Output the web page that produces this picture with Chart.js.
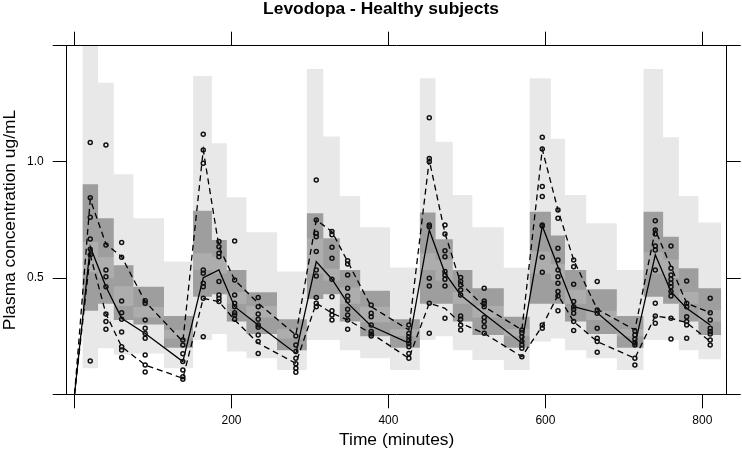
<!DOCTYPE html>
<html>
<head>
<meta charset="utf-8">
<script src="https://cdn.jsdelivr.net/npm/chart.js@4.4.1/dist/chart.umd.min.js"></script>
<style>
  html, body { margin: 0; padding: 0; background: #fff; }
  #wrap { width: 742px; height: 452px; }
</style>
</head>
<body>
<div id="wrap"><canvas id="vpc" width="742" height="452"></canvas></div>
<script>
// observed sampling times (minutes)
const sampleTimes = [0, 20, 40, 60, 90, 138, 164, 184, 204, 234, 282, 308, 328, 348, 378,
  426, 452, 472, 492, 522, 570, 596, 616, 636, 666, 714, 740, 760, 780, 810];

// observed percentiles at each sampling time
const obsMedian = [0, 0.635, 0.463, 0.327, 0.262, 0.141, 0.502, 0.535, 0.377, 0.298, 0.176,
  0.571, 0.495, 0.392, 0.294, 0.22, 0.707, 0.521, 0.427, 0.346, 0.22,
  0.724, 0.549, 0.377, 0.351, 0.212, 0.60, 0.442, 0.37, 0.298];
const obsP95 = [0, 0.839, 0.647, 0.592, 0.399, 0.227, 1.051, 0.635, 0.492, 0.392, 0.255,
  0.75, 0.70, 0.571, 0.377, 0.277, 1.008, 0.693, 0.478, 0.377, 0.277,
  1.054, 0.793, 0.578, 0.366, 0.277, 0.707, 0.549, 0.392, 0.351];
const obsP05 = [0, 0.60, 0.346, 0.205, 0.126, 0.069, 0.413, 0.399, 0.32, 0.22, 0.133,
  0.392, 0.349, 0.32, 0.262, 0.155, 0.392, 0.37, 0.306, 0.262, 0.162,
  0.294, 0.427, 0.313, 0.227, 0.155, 0.337, 0.327, 0.308, 0.227];

// observed concentrations, one list per sampling time
const obsValues = [
  [],
  [1.083, 0.846, 0.762, 0.668, 0.624, 0.60, 0.143],
  [1.073, 0.642, 0.535, 0.506, 0.463, 0.346, 0.313, 0.28],
  [0.653, 0.59, 0.402, 0.351, 0.323, 0.268, 0.205, 0.191, 0.158],
  [0.403, 0.392, 0.32, 0.284, 0.262, 0.241, 0.169, 0.126, 0.096],
  [0.234, 0.212, 0.174, 0.141, 0.105, 0.076, 0.065],
  [1.119, 1.051, 0.994, 0.535, 0.521, 0.478, 0.463, 0.413, 0.248],
  [0.657, 0.635, 0.607, 0.592, 0.485, 0.427, 0.413, 0.399],
  [0.66, 0.492, 0.427, 0.392, 0.377, 0.351, 0.341, 0.323],
  [0.416, 0.377, 0.346, 0.323, 0.298, 0.288, 0.255, 0.227, 0.176],
  [0.251, 0.212, 0.184, 0.155, 0.131, 0.112, 0.095],
  [0.922, 0.75, 0.693, 0.678, 0.614, 0.535, 0.509, 0.417, 0.392, 0.377],
  [0.70, 0.686, 0.633, 0.585, 0.495, 0.42, 0.36, 0.341, 0.32],
  [0.575, 0.561, 0.513, 0.456, 0.423, 0.403, 0.366, 0.341, 0.32, 0.28],
  [0.384, 0.349, 0.334, 0.298, 0.27, 0.26, 0.251],
  [0.298, 0.262, 0.248, 0.234, 0.219, 0.205, 0.176, 0.155],
  [1.19, 1.015, 1.001, 0.729, 0.721, 0.499, 0.466, 0.392, 0.263],
  [0.729, 0.69, 0.618, 0.592, 0.528, 0.513, 0.495, 0.466, 0.327],
  [0.503, 0.485, 0.47, 0.449, 0.427, 0.337, 0.323, 0.298, 0.277],
  [0.456, 0.402, 0.392, 0.377, 0.33, 0.313, 0.291, 0.263],
  [0.277, 0.265, 0.248, 0.227, 0.212, 0.198, 0.162],
  [1.106, 1.056, 0.894, 0.851, 0.729, 0.724, 0.59, 0.525, 0.298, 0.284],
  [0.793, 0.757, 0.628, 0.578, 0.535, 0.506, 0.478, 0.442, 0.423, 0.36],
  [0.578, 0.549, 0.473, 0.399, 0.377, 0.366, 0.349, 0.313, 0.274],
  [0.485, 0.363, 0.349, 0.284, 0.241, 0.227, 0.181],
  [0.273, 0.255, 0.237, 0.222, 0.212, 0.155, 0.126],
  [0.747, 0.707, 0.69, 0.638, 0.621, 0.535, 0.392, 0.337, 0.306],
  [0.638, 0.542, 0.513, 0.495, 0.478, 0.463, 0.442, 0.423, 0.327, 0.238],
  [0.488, 0.392, 0.377, 0.334, 0.313, 0.298, 0.241],
  [0.413, 0.351, 0.32, 0.284, 0.27, 0.26, 0.234, 0.212]
];

// simulation bins (edges) and confidence intervals of the simulated percentiles
const binEdges = [10, 30, 50, 75, 114, 151, 175, 194, 219, 258, 296, 317, 338, 364, 402,
  440, 460, 482, 507, 547, 580, 607, 625, 652, 691, 725, 750, 770, 795, 824];
const ciHiTop = [1.6, 1.341, 0.947, 0.757, 0.571, 1.37, 1.08, 0.848, 0.697, 0.528,
  1.40, 1.109, 0.853, 0.719, 0.546, 1.36, 1.087, 0.858, 0.719, 0.545,
  1.36, 1.10, 0.858, 0.736, 0.535, 1.40, 1.106, 0.853, 0.739];
const ciHiBot = [0.655, 0.59, 0.465, 0.376, 0.277, 0.607, 0.592, 0.44, 0.38, 0.28,
  0.67, 0.54, 0.46, 0.377, 0.28, 0.607, 0.578, 0.44, 0.38, 0.28,
  0.614, 0.56, 0.45, 0.36, 0.28, 0.611, 0.58, 0.44, 0.363];
const ciMedTop = [0.904, 0.757, 0.555, 0.463, 0.337, 0.79, 0.664, 0.535, 0.439, 0.323,
  0.779, 0.671, 0.535, 0.446, 0.323, 0.782, 0.667, 0.535, 0.456, 0.334,
  0.786, 0.683, 0.535, 0.452, 0.337, 0.786, 0.678, 0.542, 0.456];
const ciMedBot = [0.36, 0.39, 0.32, 0.30, 0.20, 0.42, 0.43, 0.313, 0.26, 0.19,
  0.41, 0.43, 0.313, 0.25, 0.20, 0.39, 0.39, 0.313, 0.255, 0.20,
  0.39, 0.39, 0.313, 0.26, 0.20, 0.42, 0.39, 0.313, 0.255];
const ciLoTop = [0.525, 0.50, 0.38, 0.33, 0.24, 0.535, 0.52, 0.39, 0.33, 0.24,
  0.52, 0.49, 0.39, 0.31, 0.25, 0.535, 0.49, 0.39, 0.33, 0.25,
  0.52, 0.49, 0.39, 0.32, 0.25, 0.52, 0.50, 0.39, 0.313];
const ciLoBot = [0.112, 0.198, 0.17, 0.176, 0.112, 0.234, 0.26, 0.184, 0.155, 0.105,
  0.234, 0.234, 0.19, 0.155, 0.105, 0.234, 0.25, 0.19, 0.148, 0.105,
  0.227, 0.24, 0.19, 0.155, 0.105, 0.234, 0.234, 0.19, 0.151];

const xTicks = [0, 200, 400, 600, 800];
const yTicks = [0, 0.5, 1.0, 1.5];
const yTickLabels = ['', '0.5', '1.0', ''];

const FONT = '"Liberation Sans", Arial, Helvetica, sans-serif';
Chart.defaults.font.family = FONT;
Chart.defaults.color = '#000';

const LIGHT = 'rgba(0,0,0,0.09)';
const MID = 'rgba(0,0,0,0.32)';

const stepPts = vals => binEdges.map((x, i) => ({ x: x, y: vals[Math.min(i, vals.length - 1)] }));
const linePts = vals => sampleTimes.map((x, i) => ({ x: x, y: vals[i] }));
const obsPts = [];
obsValues.forEach((list, i) => list.forEach(v => obsPts.push({ x: sampleTimes[i], y: v })));

function bandPair(top, bot, color) {
  const common = { stepped: true, borderWidth: 0, borderColor: 'rgba(0,0,0,0)', pointRadius: 0, order: 5 };
  return [
    Object.assign({ data: stepPts(top), fill: '+1', backgroundColor: color }, common),
    Object.assign({ data: stepPts(bot), fill: false }, common)
  ];
}

const lineStyle = { borderColor: '#000', borderWidth: 1.3, pointRadius: 0, fill: false, tension: 0, order: 1 };

const tickGrid = { drawOnChartArea: false, drawTicks: true, tickLength: 14, color: '#000', lineWidth: 1 };
const border = { display: true, color: '#000', width: 1 };
const setTicks = list => scale => { scale.ticks = list.map(v => ({ value: v })); };

// fixed axis box sizes so the panel sits where it does in the original
const fixWidth = w => scale => { scale.width = w; };
const fixHeight = h => scale => { scale.height = h; };

const titlePlugin = {
  id: 'plotTitle',
  afterDraw(chart) {
    const ctx = chart.ctx;
    ctx.save();
    ctx.font = 'bold 17.4px ' + FONT;
    ctx.fillStyle = '#000';
    ctx.textAlign = 'center';
    ctx.textBaseline = 'alphabetic';
    ctx.fillText('Levodopa - Healthy subjects', 381, 14);
    ctx.restore();
  }
};

new Chart(document.getElementById('vpc'), {
  type: 'line',
  data: {
    datasets: [
      ...bandPair(ciHiTop, ciHiBot, LIGHT),
      ...bandPair(ciMedTop, ciMedBot, MID),
      ...bandPair(ciLoTop, ciLoBot, LIGHT),
      Object.assign({ data: linePts(obsMedian) }, lineStyle),
      Object.assign({ data: linePts(obsP95), borderDash: [6, 4] }, lineStyle),
      Object.assign({ data: linePts(obsP05), borderDash: [6, 4] }, lineStyle),
      {
        type: 'scatter',
        data: obsPts,
        showLine: false,
        pointRadius: 2,
        pointBorderWidth: 1.5,
        borderColor: '#111',
        backgroundColor: 'rgba(0,0,0,0)',
        order: 0
      }
    ]
  },
  options: {
    responsive: false,
    animation: false,
    events: [],
    layout: { padding: { left: 0, right: 1.3, top: 31.7, bottom: 0 } },
    plugins: { legend: { display: false }, tooltip: { enabled: false }, title: { display: false } },
    scales: {
      x: {
        type: 'linear', position: 'bottom', min: -10, max: 831,
        afterBuildTicks: setTicks(xTicks),
        afterFit: fixHeight(57.7),
        ticks: { callback: v => (v === 0 ? '' : String(v)), font: { size: 12 }, padding: 5, maxRotation: 0, autoSkip: false },
        grid: tickGrid, border: border,
        title: { display: true, text: 'Time (minutes)', font: { size: 17.4 }, padding: { top: 0, bottom: 1.8 } }
      },
      x2: {
        type: 'linear', position: 'top', min: -10, max: 831,
        afterBuildTicks: setTicks(xTicks),
        afterFit: fixHeight(14),
        ticks: { display: false },
        grid: tickGrid, border: border
      },
      y: {
        type: 'linear', position: 'left', min: 0, max: 1.5,
        afterBuildTicks: setTicks(yTicks),
        afterFit: fixWidth(66.7),
        ticks: { callback: (v, i) => yTickLabels[i], font: { size: 12 }, padding: 9 },
        grid: tickGrid, border: border,
        title: { display: true, text: 'Plasma concentration ug/mL', font: { size: 17.4 }, padding: { top: 0, bottom: 0 } }
      },
      y2: {
        type: 'linear', position: 'right', min: 0, max: 1.5,
        afterBuildTicks: setTicks(yTicks),
        afterFit: fixWidth(14),
        ticks: { display: false },
        grid: tickGrid, border: border
      }
    }
  },
  plugins: [titlePlugin]
});
</script>
</body>
</html>
